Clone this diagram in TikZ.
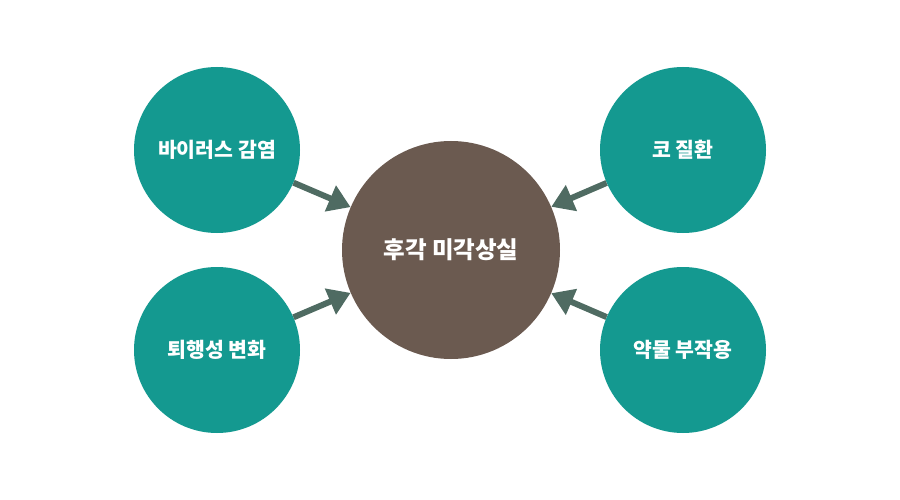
\documentclass[tikz,border=0pt]{standalone}
\usepackage{fontspec}
\newfontfamily\kr{Noto Sans CJK KR}
\definecolor{teal1}{HTML}{149990}
\definecolor{brown1}{HTML}{6B5A50}
\definecolor{arrowc}{HTML}{4F6B62}
\usetikzlibrary{arrows.meta}
\begin{document}
\begin{tikzpicture}[x=1pt,y=-1pt,
  outer/.style={circle,fill=teal1,minimum size=166pt,inner sep=0pt,text=white,font=\kr\bfseries\fontsize{20.5}{23}\selectfont},
  inner/.style={circle,fill=brown1,minimum size=218pt,inner sep=0pt,text=white,font=\kr\bfseries\fontsize{23.5}{26}\selectfont},
  conn/.style={draw=arrowc,line width=6pt,-{Triangle[length=22pt,width=27pt]}}]
\useasboundingbox (0,0) rectangle (900,500);
\node[inner] (c) at (451,250) {후각 미각상실};
\node[outer] (tl) at (217,150) {바이러스 감염};
\node[outer] (bl) at (217,350) {퇴행성 변화};
\node[outer] (tr) at (683,150) {코 질환};
\node[outer] (br) at (683,350) {약물 부작용};
\draw[conn] (tl) -- (c);
\draw[conn] (bl) -- (c);
\draw[conn] (tr) -- (c);
\draw[conn] (br) -- (c);
\end{tikzpicture}
\end{document}
